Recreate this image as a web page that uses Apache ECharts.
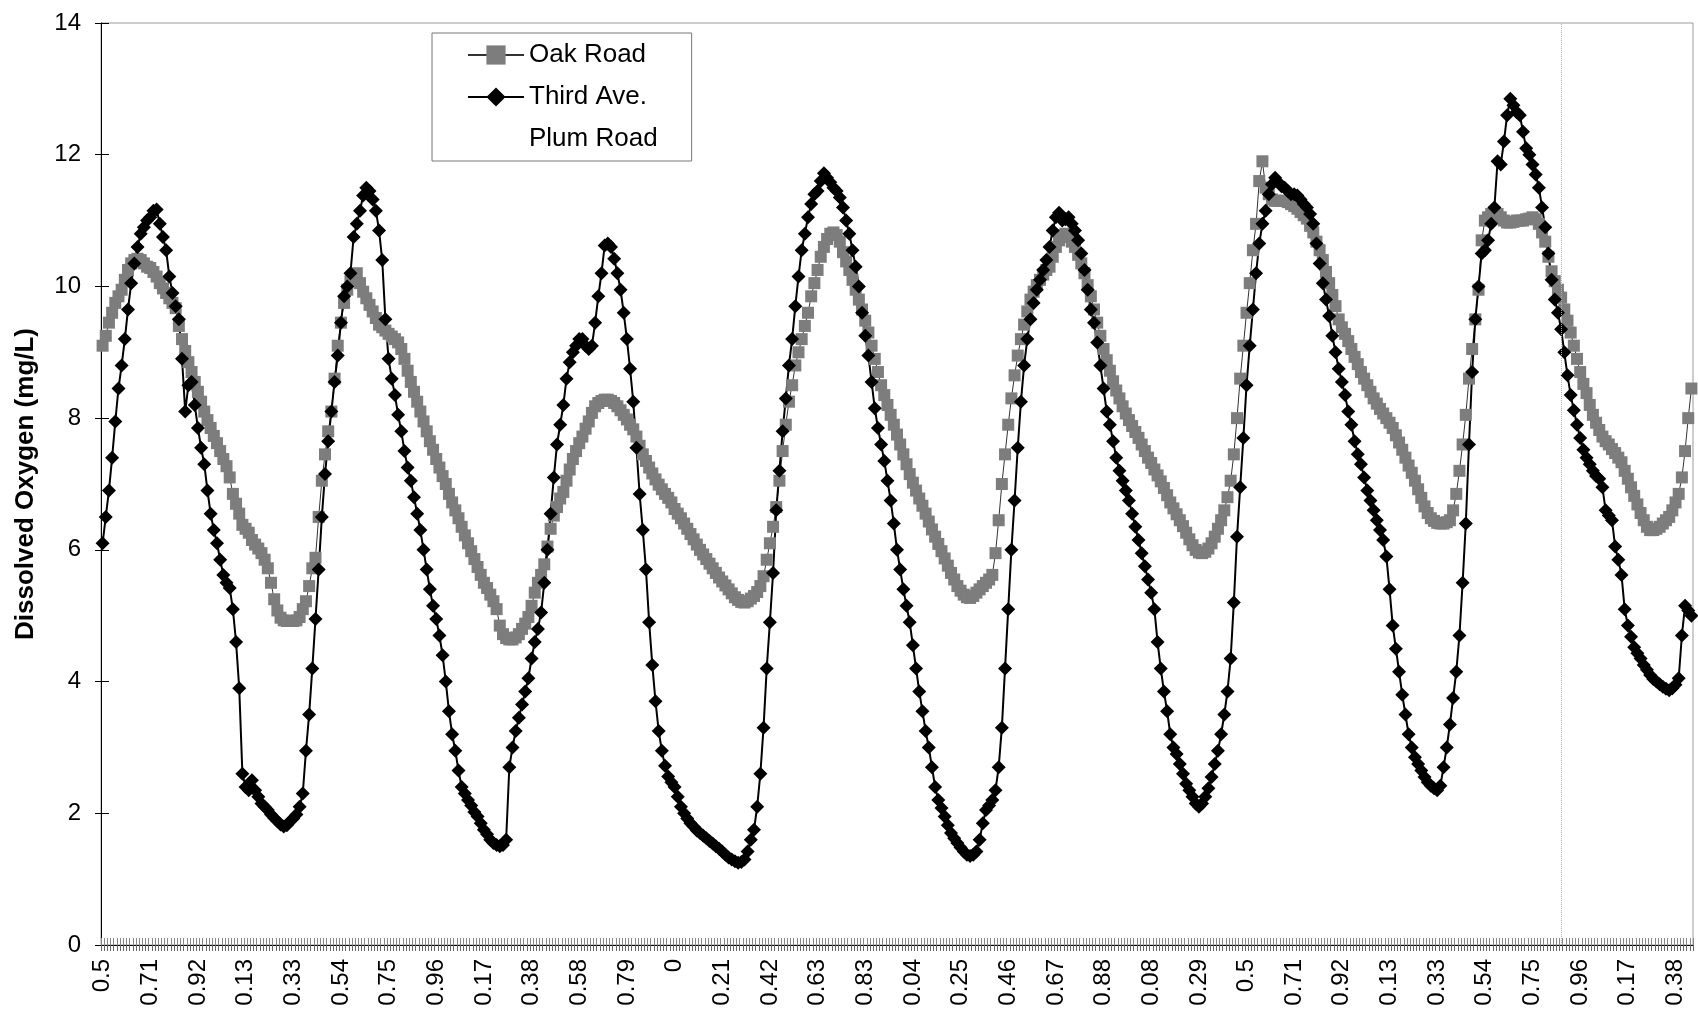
<!DOCTYPE html>
<html>
<head>
<meta charset="utf-8">
<script src="https://cdn.jsdelivr.net/npm/echarts@6/dist/echarts.min.js"></script>
<style>
html,body{margin:0;padding:0;background:#fff;}
#chart{width:1698px;height:1020px;}
</style>
</head>
<body>
<div id="chart"></div>
<script>
// Time axis: readings every 20 minutes starting at noon (fraction of a day)
var START_MINUTES = 720;
var STEP_MINUTES = 20;
var POINT_COUNT = 501;

var seriesNames = ['Oak Road', 'Third Ave.', 'Plum Road'];

var oakRoad = [
9.1,9.25,9.45,9.6,9.75,9.85,9.95,10.1,10.25,10.35,10.4,10.42,10.4,10.35,10.3,
10.28,10.22,10.15,10.05,9.97,9.9,9.82,9.75,9.67,9.4,9.2,9.02,8.85,8.7,8.55,
8.4,8.25,8.1,7.97,7.85,7.73,7.62,7.5,7.38,7.27,7.1,6.85,6.7,6.55,6.38,
6.32,6.26,6.15,6.08,6.02,5.95,5.85,5.72,5.5,5.25,5.08,4.97,4.93,4.92,4.92,
4.92,4.93,4.98,5.1,5.22,5.45,5.72,5.88,6.5,7.05,7.45,7.8,8.1,8.6,9.1,
9.45,9.75,9.95,10.08,10.15,10.2,10.05,9.92,9.82,9.72,9.62,9.52,9.42,9.38,9.33,
9.28,9.24,9.2,9.15,9.05,8.9,8.72,8.55,8.4,8.25,8.1,7.95,7.8,7.65,7.52,
7.38,7.25,7.12,7.0,6.85,6.72,6.6,6.48,6.35,6.22,6.1,5.98,5.86,5.74,5.62,
5.5,5.42,5.32,5.22,5.1,4.85,4.72,4.66,4.64,4.64,4.67,4.72,4.8,4.88,4.98,
5.15,5.35,5.5,5.62,5.78,6.05,6.32,6.52,6.65,6.78,6.88,7.05,7.22,7.38,7.5,
7.62,7.72,7.84,7.95,8.08,8.18,8.23,8.26,8.28,8.28,8.26,8.23,8.18,8.12,8.05,
7.98,7.9,7.83,7.72,7.58,7.45,7.35,7.25,7.16,7.07,6.99,6.92,6.85,6.79,6.72,
6.62,6.55,6.48,6.4,6.32,6.24,6.16,6.08,6.0,5.93,5.86,5.79,5.72,5.65,5.58,
5.52,5.46,5.4,5.34,5.28,5.24,5.21,5.2,5.22,5.26,5.3,5.36,5.45,5.6,5.85,
6.1,6.35,6.65,7.05,7.5,7.9,8.25,8.5,8.8,9.0,9.2,9.4,9.6,9.85,10.05,
10.25,10.45,10.6,10.72,10.8,10.82,10.78,10.68,10.52,10.38,10.25,10.1,9.95,9.8,9.65,
9.48,9.3,9.1,8.9,8.7,8.5,8.35,8.2,8.05,7.9,7.75,7.6,7.45,7.3,7.15,
7.02,6.9,6.78,6.67,6.55,6.43,6.31,6.2,6.09,5.98,5.87,5.76,5.65,5.55,5.45,
5.38,5.32,5.28,5.27,5.3,5.35,5.4,5.45,5.5,5.55,5.62,5.95,6.45,7.0,7.45,
7.9,8.3,8.65,8.95,9.2,9.42,9.62,9.8,9.92,10.02,10.1,10.18,10.25,10.3,10.45,
10.6,10.7,10.78,10.8,10.75,10.68,10.6,10.48,10.35,10.2,10.02,9.85,9.65,9.45,9.25,
9.05,8.88,8.72,8.56,8.42,8.3,8.18,8.07,7.97,7.88,7.79,7.7,7.6,7.5,7.4,
7.32,7.22,7.13,7.04,6.94,6.83,6.72,6.63,6.54,6.45,6.36,6.26,6.16,6.07,6.0,
5.96,5.95,5.97,6.02,6.1,6.2,6.32,6.45,6.6,6.8,7.05,7.45,8.0,8.6,9.1,
9.6,10.05,10.55,10.95,11.6,11.9,11.5,11.4,11.32,11.3,11.3,11.3,11.3,11.28,11.25,
11.22,11.18,11.13,11.08,11.03,10.92,10.82,10.68,10.55,10.4,10.22,10.05,9.87,9.7,9.5,
9.38,9.28,9.17,9.05,8.93,8.82,8.7,8.6,8.5,8.4,8.3,8.22,8.14,8.07,8.0,
7.93,7.85,7.74,7.63,7.52,7.4,7.28,7.17,7.05,6.92,6.79,6.66,6.56,6.48,6.44,
6.41,6.4,6.4,6.42,6.45,6.6,6.85,7.2,7.6,8.05,8.6,9.05,9.5,9.95,10.7,
11.0,11.05,11.1,11.12,11.1,11.05,11.0,10.97,10.97,10.98,11.0,11.0,11.0,11.02,11.03,
11.05,11.02,10.95,10.82,10.68,10.45,10.23,10.08,9.95,9.83,9.65,9.48,9.3,9.1,8.9,
8.7,8.52,8.38,8.2,8.05,7.93,7.82,7.72,7.65,7.6,7.53,7.47,7.4,7.33,7.2,
7.08,6.95,6.82,6.69,6.56,6.45,6.35,6.3,6.3,6.32,6.35,6.4,6.45,6.5,6.6,
6.72,6.85,7.1,7.5,8.0,8.45
];

var thirdAve = [
6.1,6.5,6.9,7.4,7.95,8.45,8.8,9.2,9.65,10.05,10.35,10.6,10.8,10.9,11.0,
11.05,11.15,11.17,10.95,10.75,10.55,10.15,9.9,9.7,9.5,8.9,8.1,8.5,8.55,8.2,
7.85,7.55,7.3,6.9,6.55,6.3,6.1,5.85,5.62,5.5,5.42,5.1,4.6,3.9,2.6,
2.4,2.35,2.5,2.35,2.25,2.15,2.1,2.05,1.98,1.93,1.88,1.83,1.8,1.82,1.88,
1.92,1.98,2.1,2.3,2.95,3.5,4.2,4.95,5.7,6.5,7.15,7.65,8.1,8.55,8.95,
9.45,9.85,10.0,10.2,10.75,10.95,11.15,11.38,11.5,11.45,11.32,11.15,10.85,10.4,9.5,
8.9,8.6,8.35,8.05,7.8,7.5,7.25,7.05,6.8,6.55,6.3,6.0,5.7,5.4,5.15,
4.95,4.7,4.4,4.0,3.55,3.2,2.95,2.65,2.4,2.3,2.2,2.12,2.02,1.95,1.85,
1.75,1.68,1.6,1.55,1.52,1.5,1.52,1.6,2.7,3.0,3.25,3.45,3.65,3.85,4.05,
4.35,4.6,4.8,5.05,5.5,6.0,6.55,7.1,7.6,7.9,8.2,8.6,8.85,9.0,9.1,
9.2,9.2,9.1,9.05,9.1,9.45,9.85,10.2,10.62,10.65,10.6,10.42,10.2,9.95,9.6,
9.2,8.75,8.25,7.55,6.85,6.3,5.7,4.9,4.25,3.7,3.25,2.95,2.72,2.56,2.47,
2.4,2.25,2.1,2.0,1.92,1.85,1.8,1.74,1.7,1.66,1.62,1.58,1.54,1.5,1.46,
1.42,1.37,1.33,1.3,1.27,1.25,1.26,1.3,1.42,1.6,1.75,2.1,2.6,3.3,4.2,
4.9,5.65,6.6,7.2,7.8,8.3,8.8,9.2,9.7,10.15,10.55,10.8,11.05,11.25,11.4,
11.45,11.6,11.72,11.65,11.58,11.5,11.45,11.35,11.2,11.0,10.8,10.55,10.3,10.0,9.6,
9.25,8.95,8.55,8.15,7.85,7.6,7.35,7.05,6.75,6.4,6.0,5.7,5.4,5.15,4.9,
4.55,4.2,3.85,3.55,3.25,3.0,2.7,2.4,2.2,2.08,1.95,1.82,1.7,1.62,1.55,
1.48,1.42,1.37,1.35,1.37,1.42,1.6,1.85,2.05,2.12,2.2,2.35,2.7,3.3,4.2,
5.1,6.0,6.75,7.55,8.25,8.8,9.2,9.5,9.75,9.95,10.1,10.25,10.4,10.6,10.85,
11.05,11.12,11.0,11.02,11.05,10.95,10.85,10.7,10.5,10.25,9.95,9.65,9.45,9.15,8.8,
8.45,8.1,7.9,7.65,7.4,7.2,7.05,6.9,6.75,6.55,6.35,6.15,5.95,5.75,5.55,
5.35,5.1,4.6,4.2,3.85,3.55,3.2,3.0,2.9,2.75,2.6,2.45,2.35,2.25,2.15,
2.1,2.15,2.25,2.38,2.55,2.75,2.95,3.2,3.5,3.85,4.35,5.2,6.2,6.95,7.7,
8.5,9.1,9.65,10.2,10.65,10.95,11.15,11.4,11.55,11.65,11.58,11.52,11.5,11.45,11.4,
11.4,11.38,11.32,11.25,11.2,11.1,10.95,10.65,10.35,10.05,9.8,9.55,9.25,9.0,8.75,
8.55,8.35,8.1,7.9,7.65,7.45,7.3,7.1,6.9,6.75,6.6,6.45,6.3,6.15,5.9,
5.4,4.85,4.5,4.15,3.8,3.5,3.2,3.0,2.85,2.75,2.65,2.55,2.47,2.42,2.38,
2.35,2.42,2.7,3.0,3.35,3.75,4.15,4.7,5.5,6.4,7.6,8.7,9.5,10.0,10.5,
10.55,10.7,10.95,11.2,11.9,11.85,12.2,12.6,12.85,12.75,12.65,12.6,12.35,12.1,12.0,
11.85,11.7,11.5,11.2,10.9,10.5,10.1,9.8,9.6,9.35,9.0,8.65,8.35,8.12,7.9,
7.7,7.52,7.4,7.3,7.2,7.12,7.08,6.95,6.6,6.52,6.45,6.05,5.85,5.62,5.1,
4.85,4.68,4.52,4.43,4.35,4.25,4.18,4.1,4.04,4.0,3.96,3.92,3.89,3.87,3.9,
3.95,4.05,4.7,5.15,5.08,5.0
];

// Plum Road is drawn in white in the original (no visible marks)
var plumRoad = [];

// Y axis ticks
var yMin = 0, yMax = 14, yStep = 2;

// Category labels: fraction of day, shown with up to 2 decimals
var categories = [];
for (var i = 0; i < POINT_COUNT; i++) {
  var mins = (START_MINUTES + STEP_MINUTES * i) % 1440;
  categories.push(String(Number((mins / 1440).toFixed(2))));
}

var FONT = '"Liberation Sans", Arial, Helvetica, sans-serif';
var chart = echarts.init(document.getElementById('chart'), null, {renderer: 'canvas'});

chart.setOption({
  animation: false,
  backgroundColor: '#ffffff',
  textStyle: {fontFamily: FONT, color: '#000'},
  grid: {left: 101, right: 5, top: 23, bottom: 75, show: true, borderColor: '#9a9a9a', borderWidth: 1, containLabel: false},
  legend: {
    orient: 'vertical', left: 432, top: 33,
    padding: [9, 34, 9, 35],
    itemGap: 16, itemWidth: 56, itemHeight: 24,
    borderColor: '#777', borderWidth: 1, backgroundColor: '#fff',
    textStyle: {fontSize: 26, color: '#000', fontFamily: FONT},
    data: seriesNames
  },
  xAxis: [{
    type: 'category', data: categories, boundaryGap: true, position: 'bottom',
    axisLine: {show: true, lineStyle: {color: '#000', width: 1}},
    axisTick: {show: true, interval: 0, length: 6, lineStyle: {color: '#666', width: 1}},
    axisLabel: {interval: 14, rotate: 90, fontSize: 24, margin: 14, color: '#000', fontFamily: FONT},
    splitLine: {show: false}
  }, {
    type: 'category', data: categories, boundaryGap: true, position: 'bottom',
    axisLine: {show: false},
    axisTick: {show: true, inside: true, interval: 0, length: 7, lineStyle: {color: '#888', width: 1}},
    axisLabel: {show: false},
    splitLine: {show: false}
  }],
  yAxis: [{
    type: 'value', min: yMin, max: yMax, interval: yStep, position: 'left',
    name: 'Dissolved Oxygen (mg/L)', nameLocation: 'middle', nameGap: 62,
    nameTextStyle: {fontSize: 26, fontWeight: 'bold', color: '#000', fontFamily: FONT},
    axisLine: {show: true, lineStyle: {color: '#000', width: 1}},
    axisTick: {show: true, length: 6, lineStyle: {color: '#000'}},
    axisLabel: {margin: 20, fontSize: 24, color: '#000', fontFamily: FONT},
    splitLine: {show: false}
  }, {
    type: 'value', min: yMin, max: yMax, interval: yStep, position: 'left',
    axisLine: {show: false},
    axisTick: {show: true, inside: true, length: 8, lineStyle: {color: '#000'}},
    axisLabel: {show: false},
    splitLine: {show: false}
  }],
  series: [{
    name: 'Oak Road', type: 'line', data: oakRoad,
    symbol: 'rect', symbolSize: 12, showAllSymbol: true,
    itemStyle: {color: '#7d7d7d'},
    lineStyle: {color: '#333', width: 1},
    emphasis: {disabled: true},
    markLine: {
      silent: true, symbol: 'none', label: {show: false},
      lineStyle: {color: '#b0b0b0', type: 'dotted', width: 1},
      data: [{xAxis: 459}]
    }
  }, {
    name: 'Third Ave.', type: 'line', data: thirdAve,
    symbol: 'diamond', symbolSize: 14, showAllSymbol: true,
    itemStyle: {color: '#000'},
    lineStyle: {color: '#000', width: 2},
    emphasis: {disabled: true}
  }, {
    name: 'Plum Road', type: 'line', data: plumRoad,
    symbol: 'triangle', symbolSize: 10, showAllSymbol: true,
    itemStyle: {color: '#fff'},
    lineStyle: {color: '#fff', width: 1},
    emphasis: {disabled: true}
  }]
});
</script>
</body>
</html>
